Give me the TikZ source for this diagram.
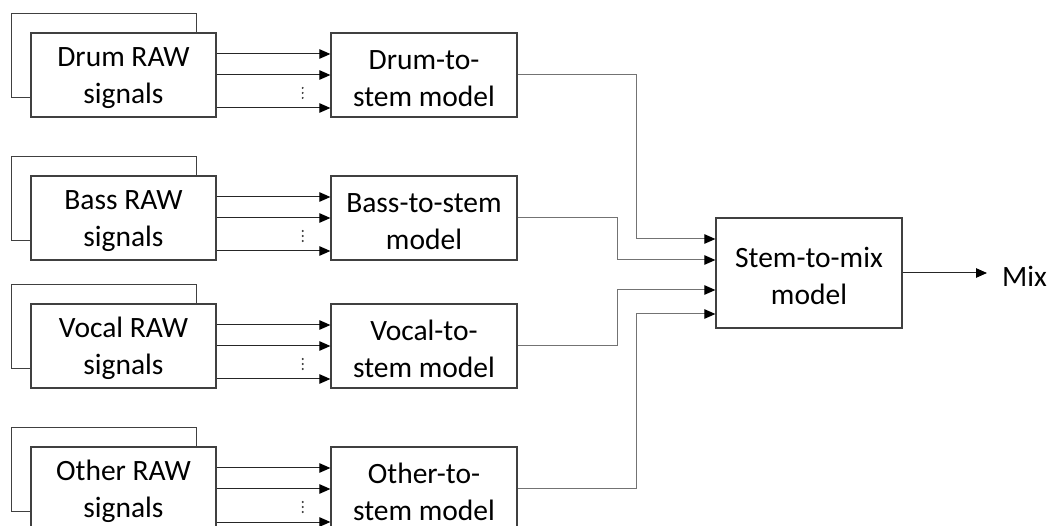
\documentclass[tikz,border=0pt]{standalone}
\usepackage{fontspec}
\setmainfont{Carlito}
\usetikzlibrary{arrows.meta}
\newcommand{\twol}[2]{\rule{0pt}{26pt}#1\\#2}
\begin{document}
\begin{tikzpicture}[x=1pt,y=-1pt,
  box/.style={draw=black!75,line width=1.3pt,fill=white,minimum width=185pt,minimum height=84pt,inner sep=0pt,align=center,font=\fontsize{29.5}{37}\selectfont},
  tip/.style={-{Triangle[length=11pt,width=9.5pt,color=black]}},
  inarrow/.style={draw=black!85,line width=1pt,tip},
  link/.style={draw=black!55,line width=1pt,tip},
  vdot/.style={fill=black!80,circle,inner sep=0pt,minimum size=2.2pt}]
\useasboundingbox (0,0) rectangle (1050,526);
% Drum
\node[box] (drumback) at (104,55.5) {};
\node[box] (drumraw) at (123.5,75) {\twol{Drum RAW}{signals}};
\node[box,minimum width=186pt] (drummodel) at (424,75) {\twol{Drum-to-}{stem model}};
% Bass
\node[box] (bassback) at (104,198.5) {};
\node[box] (bassraw) at (123.5,218) {\twol{Bass RAW}{signals}};
\node[box,minimum width=186pt] (bassmodel) at (424,218) {\twol{Bass-to-stem}{model}};
% Vocal
\node[box] (vocalback) at (104,326.5) {};
\node[box] (vocalraw) at (123.5,346) {\twol{Vocal RAW}{signals}};
\node[box,minimum width=186pt] (vocalmodel) at (424,346) {\twol{Vocal-to-}{stem model}};
% Other
\node[box] (otherback) at (104,469.5) {};
\node[box] (otherraw) at (123.5,489) {\twol{Other RAW}{signals}};
\node[box,minimum width=186pt] (othermodel) at (424,489) {\twol{Other-to-}{stem model}};
% Stem-to-mix
\node[box,minimum width=186pt,minimum height=110pt] (mix) at (809,273) {\twol{Stem-to-mix}{model}};
\node[anchor=west,inner sep=0pt,font=\fontsize{29.5}{37}\selectfont] (mixout) at (1002,276) {Mix};
\coordinate (mixend) at (987,273);
% input arrows
\foreach \g in {drum,bass,vocal,other}{
  \draw[inarrow] ([yshift=21pt]\g raw.east) -- ([yshift=21pt]\g model.west);
  \draw[inarrow] (\g raw.east) -- (\g model.west);
  \draw[inarrow] ([yshift=-33pt]\g raw.east) -- ([yshift=-33pt]\g model.west);
  \node[vdot] at ([xshift=86pt,yshift=-13pt]\g raw.east) {};
  \node[vdot] at ([xshift=86pt,yshift=-18pt]\g raw.east) {};
  \node[vdot] at ([xshift=86pt,yshift=-23pt]\g raw.east) {};
}
% model to mix
\draw[link] (drummodel.east) -| (636,239) -- (mix.west |- 0,239);
\draw[link] (bassmodel.east) -| (617,260) -- (mix.west |- 0,260);
\draw[link] (vocalmodel.east) -| (617,290) -- (mix.west |- 0,290);
\draw[link] (othermodel.east) -| (636,314) -- (mix.west |- 0,314);
\draw[inarrow] (mix.east) -- (mixend);
\end{tikzpicture}
\end{document}
